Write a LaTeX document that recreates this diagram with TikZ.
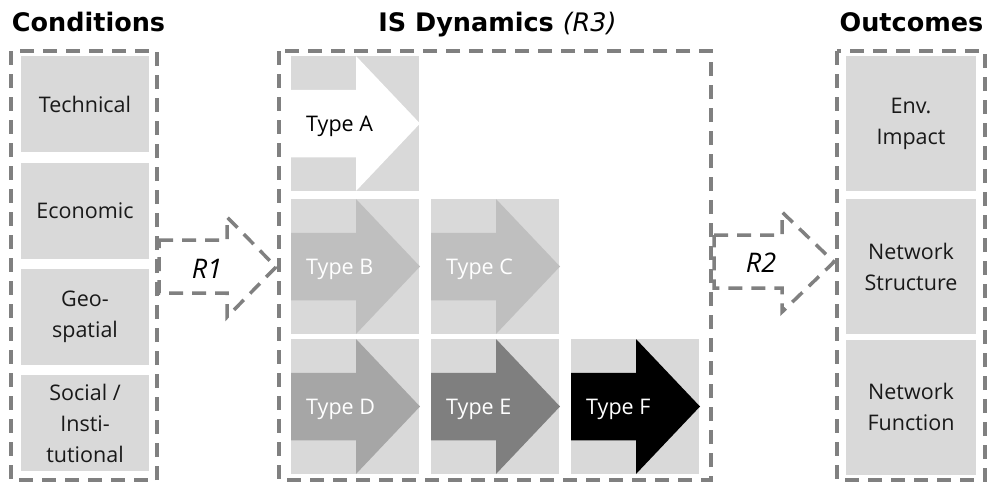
\documentclass[tikz,border=0pt]{standalone}
\usepackage{fontspec}
\setmainfont{Open Sans}
\newfontfamily\titlefont{DejaVu Sans}
\definecolor{framegray}{HTML}{808080}
\definecolor{cellgray}{HTML}{D9D9D9}
\definecolor{arrB}{HTML}{BFBFBF}
\definecolor{arrD}{HTML}{A6A6A6}
\definecolor{arrE}{HTML}{7F7F7F}
\tikzset{
  frame/.style={draw=framegray, line width=3.5pt, dash pattern=on 14pt off 9pt, line join=miter},
  cellbox/.style={fill=cellgray, draw=none, inner sep=0pt, minimum width=128pt, align=center,
    font=\fontsize{21.5}{31}\selectfont, text=black!90},
  titletext/.style={anchor=base, font=\titlefont\bfseries\fontsize{25.5}{30}\selectfont},
  rlabel/.style={font=\itshape\fontsize{27}{30}\selectfont},
  typelabel/.style={anchor=west, inner sep=0pt, font=\fontsize{21.5}{25}\selectfont},
}
\newcommand{\typecell}[6]{%
  \node[fill=cellgray, inner sep=0pt, minimum width=128pt, minimum height=135pt, anchor=north west] (#1) at (#2,#3) {};
  \fill[#4] (#2,{#3+33.75}) -- ({#2+65},{#3+33.75}) -- ({#2+65},#3) -- ({#2+129},{#3+67.5})
     -- ({#2+65},{#3+135}) -- ({#2+65},{#3+101.25}) -- (#2,{#3+101.25}) -- cycle;
  \node[typelabel, text=#5] (#1lbl) at ({#2+15},{#3+70}) {#6};
}
\begin{document}
\begin{tikzpicture}[x=1pt,y=-1pt]
\useasboundingbox (0,0) rectangle (987,483);
% titles
\node[titletext] (tcond) at (88.5,31) {Conditions};
\node[titletext] (tis) at (497.5,31) {IS Dynamics {\mdseries\itshape(R3)}};
\node[titletext] (tout) at (911.5,31) {Outcomes};
% conditions
\node[cellbox, minimum height=96pt] (tech) at (85,104) {Technical};
\node[cellbox, minimum height=96pt] (econ) at (85,211) {Economic};
\node[cellbox, minimum height=96pt] (geo) at (85,317) {Geo-\\spatial};
\node[cellbox, minimum height=96pt] (soc) at (85,423) {Social /\\Insti-\\tutional};
% outcomes
\node[cellbox, minimum height=135pt, minimum width=130pt] (env) at (911,123.5) {Env.\\Impact};
\node[cellbox, minimum height=135pt, minimum width=130pt] (nstruct) at (911,266.5) {Network\\Structure};
\node[cellbox, minimum height=135pt, minimum width=130pt] (nfunc) at (911,407) {Network\\Function};
% IS dynamics cells
\typecell{cA}{291}{56}{white}{black}{Type A}
\typecell{cB}{291}{199}{arrB}{white}{Type B}
\typecell{cC}{431}{199}{arrB}{white}{Type C}
\typecell{cD}{291}{339}{arrD}{white}{Type D}
\typecell{cE}{431}{339}{arrE}{white}{Type E}
\typecell{cF}{571}{339}{black}{white}{Type F}
% frames
\draw[frame] (11,51) rectangle (157,480);
\draw[frame] (279,51) rectangle (711,480);
\draw[frame] (837,51) rectangle (985,480);
% R1 arrow
\draw[frame] (159,240) -- (227,240) -- (227,217) -- (276,267) -- (227,317) -- (227,293) -- (159,293) -- cycle;
\node[rlabel] (r1) at (207,269) {R1};
% R2 arrow
\draw[frame] (714,235) -- (782,235) -- (782,212) -- (834,262) -- (782,312) -- (782,288) -- (714,288) -- cycle;
\node[rlabel] (r2) at (761,263) {R2};
\end{tikzpicture}
\end{document}
